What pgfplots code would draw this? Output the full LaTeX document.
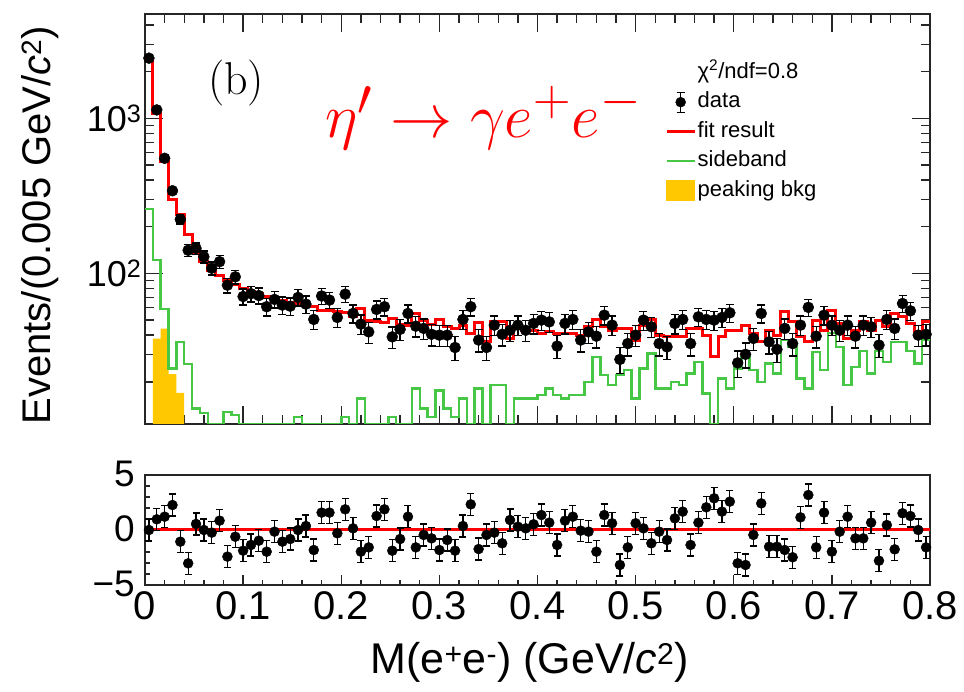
\documentclass[border=0pt]{standalone}
\usepackage{fontspec}
\usepackage{pgfplots}
\pgfplotsset{compat=1.18}
\usepackage{pgfplotstable}
\newfontfamily\helv{Liberation Sans}
\definecolor{sideg}{RGB}{70,200,70}
\definecolor{peak}{RGB}{255,200,0}

\pgfplotstableread{
x y e p
0.004 2440 49.4 0
0.012 1132 33.6 0.97
0.020 552 23.5 1.21
0.028 341 18.5 2.27
0.036 223 14.9 -1.06
0.044 141 11.9 -3.03
0.052 145 12.0 0.55
0.060 128 11.3 0
0.068 108 10.4 -0.24
0.076 119 10.9 0.85
0.084 84 9.2 -2.42
0.092 95 9.7 -0.61
0.100 71 8.4 -1.88
0.108 74 8.6 -1.36
0.116 72 8.5 -0.97
0.124 61 7.8 -1.97
0.132 68 8.2 -0.15
0.140 62.5 7.9 -1.06
0.148 61.5 7.8 -0.82
0.156 70 8.4 0
0.164 63.4 8.0 0.36
0.172 50.5 7.1 -1.82
0.180 71.5 8.5 1.58
0.188 67.3 8.2 1.58
0.196 52 7.2 -0.30
0.204 73.5 8.6 1.88
0.212 55.2 7.4 0.15
0.220 47.1 6.9 -1.97
0.228 42 6.5 -1.58
0.236 58.6 7.7 1.27
0.244 61 7.8 1.88
0.252 39 6.2 -1.88
0.260 43.6 6.6 -0.82
0.268 55.2 7.4 1.21
0.276 45.7 6.8 -1.58
0.284 44.2 6.6 -0.45
0.292 40.5 6.4 -0.76
0.300 40 6.3 -1.82
0.308 40 6.3 -0.91
0.316 33.3 5.8 -1.88
0.324 50.5 7.1 0.36
0.332 61 7.8 2.33
0.340 37.2 6.1 -1.73
0.348 33.3 5.8 -0.45
0.356 46.4 6.8 -0.24
0.364 40.5 6.4 -1.21
0.372 43 6.6 0.91
0.380 46.4 6.8 0.30
0.388 43 6.6 0.15
0.396 47.6 6.9 0.52
0.404 50 7.1 1.36
0.412 48.7 7.0 0.67
0.420 34 5.8 -1.36
0.428 47.6 6.9 0.85
0.436 50.5 7.1 1.21
0.444 37.2 6.1 -0.06
0.452 42 6.5 -0.15
0.460 39.4 6.3 -1.97
0.468 53.8 7.3 1.36
0.476 46.4 6.8 0.61
0.484 27.9 5.3 -3.18
0.492 35.3 5.9 -1.58
0.500 40 6.3 0.61
0.508 50 7.1 0.15
0.516 45.3 6.7 -1.21
0.524 35.3 5.9 -0.15
0.532 33.6 5.8 -0.91
0.540 47.6 6.9 1.06
0.548 50.5 7.1 1.67
0.556 35.3 5.9 -1.36
0.564 52.5 7.2 0.67
0.572 50.5 7.1 2.06
0.580 50 7.1 2.88
0.588 52 7.2 1.67
0.596 55.7 7.5 2.58
0.604 26.5 5.1 -3.03
0.612 30.1 5.5 -3.18
0.620 38.1 6.2 -0.45
0.628 55.2 7.4 2.42
0.636 36.2 6.0 -1.52
0.644 32.4 5.7 -1.52
0.652 44.2 6.6 -1.82
0.660 35.3 5.9 -2.48
0.668 46.4 6.8 1.15
0.676 60.4 7.8 3.18
0.684 39.4 6.3 -1.58
0.692 53.8 7.3 1.58
0.700 46.4 6.8 -1.97
0.708 43 6.6 -0.15
0.716 46.4 6.8 1.21
0.724 39.4 6.3 -0.76
0.732 46.4 6.8 -0.76
0.740 45.3 6.7 0.67
0.748 34.5 5.9 -2.79
0.756 50.5 7.1 0.45
0.764 44.2 6.6 -1.76
0.772 64 8.0 1.52
0.780 57.4 7.6 1.27
0.788 40 6.3 0
0.796 40.5 6.4 -1.58
}\datatab

\pgfplotstableread{
xl fit side
0.000 2404 260
0.008 1077 122
0.016 525 59
0.024 300 24.4
0.032 238 36
0.040 177 26
0.048 137 13.5
0.056 119 12.6
0.064 105 10.7
0.072 97 10.7
0.080 90 12.8
0.088 85 12.2
0.096 80 10.7
0.104 77 10.7
0.112 74 10.7
0.120 71 10.7
0.128 69 10.7
0.136 67 10.7
0.144 65 10.7
0.152 64 11.9
0.160 62 10.7
0.168 61 10.7
0.176 58 10.7
0.184 58 10.7
0.192 57 10.7
0.200 56 11.9
0.208 53 10.7
0.216 59 15.6
0.224 50 10.7
0.232 49 10.7
0.240 48 10.7
0.248 51.3 11.9
0.256 47 10.7
0.264 46.4 10.7
0.272 55 18.1
0.280 50 13.5
0.288 47 11.9
0.296 50.5 17.6
0.304 45.3 13.5
0.312 44 11.9
0.320 46 15.6
0.328 41 10.7
0.336 48 18.1
0.344 36.2 10.7
0.352 48.7 19.1
0.360 48.7 19.1
0.368 38 10.7
0.376 44.2 15.6
0.384 43 15.6
0.392 43 15.6
0.400 41 16.4
0.408 42.5 18.1
0.416 41 16.4
0.424 41 15.6
0.432 41 16.4
0.440 40 16.4
0.448 45.3 20
0.456 50.5 29
0.464 45.3 22.1
0.472 43 19.1
0.480 44.2 22.1
0.488 44.2 23.8
0.496 37.2 15.6
0.504 46.4 24.4
0.512 50.5 30.4
0.520 40 18.1
0.528 39 18.1
0.536 39 20
0.544 39 19.1
0.552 44.2 22.6
0.560 44.2 26.9
0.568 40 16.8
0.576 29 10.7
0.584 39 21
0.592 43 18.1
0.600 43 24.4
0.608 46.4 28.7
0.616 41 23.8
0.624 36.2 20
0.632 43 26.3
0.640 40 22.6
0.648 56.5 37.2
0.656 48.7 33.6
0.664 39 21
0.672 36.2 18.1
0.680 50 31.2
0.688 43 23.8
0.696 58 41.4
0.704 47.6 33.6
0.712 38.1 19.1
0.720 43 25
0.728 48.7 31.7
0.736 43 22.6
0.744 50 31.7
0.752 45.3 26.9
0.760 55.2 36.2
0.768 52.5 36.2
0.776 47.6 31.7
0.784 42 26.3
0.792 48.7 37.2
0.800 48.7 37.2
}\histtab

\begin{document}
\begin{tikzpicture}
\path[use as bounding box] (0,0) rectangle (964pt,691pt);
\begin{axis}[
  at={(145pt,267pt)}, anchor=south west,
  scale only axis, width=785pt, height=410pt,
  xmin=0, xmax=0.8, ymin=10.7, ymax=4700, ymode=log,
  axis line style={line width=1.5pt, black!85},
  xtick={0,0.1,0.2,0.3,0.4,0.5,0.6,0.7,0.8}, xticklabels={},
  minor x tick num=4,
  ytick={100,1000}, yticklabels={10\textsuperscript{2},10\textsuperscript{3}},
  minor ytick={20,30,40,50,60,70,80,90,200,300,400,500,600,700,800,900,2000,3000,4000},
  tick align=inside, major tick length=18pt, minor tick length=9pt,
  every tick/.style={black!85, line width=1.3pt},
  yticklabel style={font=\helv\fontsize{36}{40}\selectfont},
  ylabel={Events/(0.005 GeV/\textit{c}\textsuperscript{2})},
  ylabel style={font=\helv\fontsize{40}{44}\selectfont, at={(axis description cs:-0.134,0.485)}, anchor=center},
  legend cell align=left,
  legend style={draw=none, fill=none, at={(axis description cs:0.6624,0.8866)}, anchor=north west,
    font=\helv\fontsize{22}{26}\selectfont, row sep=5.5pt, inner sep=0pt,
    nodes={inner sep=1.5pt, text height=16pt, text depth=5pt}},
]
\addlegendimage{empty legend}
\addlegendentry{χ\textsuperscript{2}/ndf=0.8}
\addlegendimage{legend image code/.code={\draw[black,line width=1.3pt] (14pt,-10pt)--(14pt,10pt) (10pt,-10pt)--(18pt,-10pt) (10pt,10pt)--(18pt,10pt); \fill[black] (14pt,0pt) circle (5pt);}}
\addlegendentry{data}
\addlegendimage{legend image code/.code={\draw[red,line width=3pt] (0pt,0pt)--(28pt,0pt);}}
\addlegendentry{fit result}
\addlegendimage{legend image code/.code={\draw[sideg,line width=2.5pt] (0pt,0pt)--(28pt,0pt);}}
\addlegendentry{sideband}
\addlegendimage{legend image code/.code={\fill[peak] (0pt,-10pt) rectangle (28pt,10pt);}}
\addlegendentry{peaking bkg}

\addplot[fill=peak, draw=none, forget plot] coordinates {(0.008,10.7) (0.008,38) (0.016,38) (0.016,44) (0.024,44) (0.024,22.4) (0.032,22.4) (0.032,17) (0.040,17) (0.040,10.7)};
\addplot[sideg, line width=2.5pt, const plot mark left, forget plot] table[x=xl, y=side] {\histtab};
\addplot[red, line width=3pt, const plot mark left, forget plot] table[x=xl, y=fit] {\histtab};
\addplot[black, only marks, mark=*, mark size=5.5pt, forget plot,
  error bars/.cd, y dir=both, y explicit, error mark=-,
  error mark options={rotate=90, black, mark size=4pt, line width=1.3pt},
  error bar style={line width=1.3pt}]
  table[x=x, y=y, y error=e] {\datatab};
\end{axis}

\node[anchor=base west, inner sep=0pt] at (208pt,596pt) {\fontsize{46}{50}\selectfont (b)};
\node[anchor=base west, inner sep=0pt, text=red, scale=2.5] at (325pt,553pt) {\fontsize{24.88}{30}\selectfont $\eta'\to\gamma e^{+}e^{-}$};

\begin{axis}[
  at={(145pt,106pt)}, anchor=south west,
  scale only axis, width=785pt, height=110pt,
  xmin=0, xmax=0.8, ymin=-5, ymax=5,
  axis line style={line width=1.5pt, black!85},
  xtick={0,0.1,0.2,0.3,0.4,0.5,0.6,0.7,0.8},
  xticklabels={0,0.1,0.2,0.3,0.4,0.5,0.6,0.7,0.8},
  minor x tick num=4,
  ytick={-5,0,5}, yticklabels={−5,0,5}, minor y tick num=4,
  tick align=inside, tick pos=left, major tick length=10pt, minor tick length=5pt,
  every tick/.style={black!85, line width=1.3pt},
  xticklabel style={font=\helv\fontsize{40}{44}\selectfont, inner sep=1pt, yshift=-5pt},
  yticklabel style={font=\helv\fontsize{37}{42}\selectfont, inner sep=1pt, xshift=-9pt, yshift=1pt},
  xlabel={M(e\textsuperscript{+}e\textsuperscript{-}) (GeV/\textit{c}\textsuperscript{2})},
  xlabel style={font=\helv\fontsize{43}{48}\selectfont, at={(axis description cs:0.49,-0.70)}, anchor=center},
]
\addplot[red, line width=3pt] coordinates {(0,0) (0.8,0)};
\addplot[black, only marks, mark=*, mark size=5pt,
  error bars/.cd, y dir=both, y fixed=1, error mark=-,
  error mark options={rotate=90, black, mark size=3.5pt, line width=1.3pt},
  error bar style={line width=1.3pt}]
  table[x=x, y=p] {\datatab};
\end{axis}
\end{tikzpicture}
\end{document}
